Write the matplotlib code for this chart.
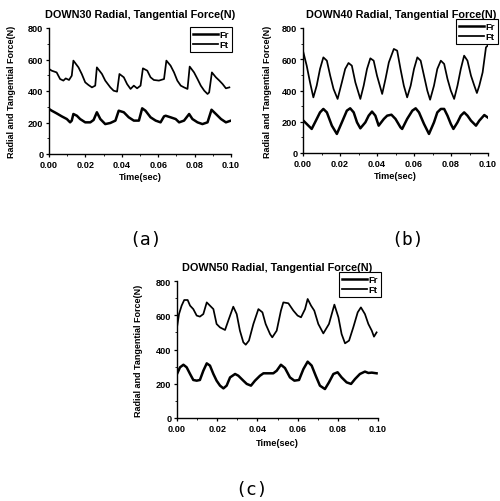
import matplotlib
matplotlib.use('Agg')
import matplotlib.pyplot as plt
from matplotlib.ticker import MultipleLocator, FormatStrFormatter
from matplotlib.lines import Line2D

plt.rcParams['font.family'] = ['Liberation Sans', 'DejaVu Sans']
plt.rcParams['font.weight'] = 'bold'

W, H = 500, 502

# ---- data ----
titles = ['DOWN30 Radial, Tangential Force(N)',
          'DOWN40 Radial, Tangential Force(N)',
          'DOWN50 Radial, Tangential Force(N)']
captions = ['(a)', '(b)', '(c)']
series_names = ['Fr', 'Ft']
x_ticks = [0.00, 0.02, 0.04, 0.06, 0.08, 0.10]
y_ticks = [0, 200, 400, 600, 800]

# DOWN30
t_a_ft = [0, 0.0015, 0.0042, 0.0061, 0.0079, 0.0092, 0.011, 0.0125, 0.0134, 0.0162,
          0.018, 0.0199, 0.0217, 0.0236, 0.0254, 0.0263, 0.0291, 0.0309, 0.0337, 0.0355,
          0.0374, 0.0387, 0.0411, 0.0429, 0.0448, 0.0466, 0.0484, 0.0503, 0.0516, 0.054,
          0.0558, 0.0576, 0.0604, 0.0632, 0.0645, 0.0668, 0.0687, 0.0705, 0.0724, 0.0742,
          0.0761, 0.0773, 0.0797, 0.0816, 0.0834, 0.0853, 0.0871, 0.088, 0.0895, 0.0917,
          0.0936, 0.0954, 0.0972, 0.0991]
a_ft = [540, 529, 518, 476, 466, 480, 470, 497, 593, 550,
        508, 455, 438, 423, 434, 550, 508, 466, 423, 402,
        396, 508, 487, 444, 413, 434, 417, 434, 544, 529,
        487, 470, 466, 476, 593, 561, 518, 466, 434, 423,
        413, 555, 518, 476, 434, 402, 381, 391, 518, 487,
        466, 444, 417, 423]
t_a_fr = [0, 0.0015, 0.0042, 0.007, 0.0098, 0.0116, 0.0125, 0.0134, 0.0153, 0.0171,
          0.0199, 0.0227, 0.0245, 0.0263, 0.0282, 0.0309, 0.0337, 0.0365, 0.0383, 0.0411,
          0.0438, 0.0466, 0.0494, 0.0512, 0.053, 0.0558, 0.0586, 0.0613, 0.0632, 0.0641,
          0.0668, 0.0696, 0.0715, 0.0742, 0.077, 0.0788, 0.0816, 0.0843, 0.0871, 0.0893,
          0.0917, 0.0945, 0.0972, 0.1]
a_fr = [286, 275, 258, 239, 222, 201, 212, 254, 243, 222,
        201, 201, 216, 265, 222, 190, 197, 212, 275, 265,
        233, 212, 212, 290, 275, 233, 212, 201, 239, 243,
        233, 222, 201, 212, 254, 222, 201, 190, 201, 281,
        254, 222, 201, 212]

# DOWN40
t_b_ft = [0.0002, 0.002, 0.0038, 0.0056, 0.0074, 0.0092, 0.011, 0.0129, 0.0147, 0.0165,
          0.0187, 0.021, 0.0228, 0.0246, 0.0264, 0.0283, 0.031, 0.0328, 0.0346, 0.0364,
          0.0382, 0.04, 0.0428, 0.0446, 0.0464, 0.0491, 0.0509, 0.0527, 0.0545, 0.0563,
          0.0582, 0.06, 0.0618, 0.0636, 0.0654, 0.0672, 0.0687, 0.0708, 0.0726, 0.0745,
          0.0763, 0.0781, 0.0799, 0.0817, 0.0835, 0.0853, 0.0871, 0.0889, 0.0908, 0.0926,
          0.094, 0.0953, 0.0971, 0.0989, 0.0998]
b_ft = [644, 559, 452, 356, 431, 538, 612, 591, 495, 410,
        346, 452, 538, 576, 559, 452, 346, 431, 538, 606,
        591, 495, 378, 474, 580, 666, 655, 538, 431, 356,
        431, 538, 612, 591, 495, 399, 341, 431, 538, 591,
        570, 474, 399, 346, 431, 538, 623, 591, 495, 431,
        384, 431, 516, 676, 687]
t_b_fr = [0.0002, 0.002, 0.0047, 0.0065, 0.0092, 0.011, 0.0129, 0.0156, 0.0183, 0.021,
          0.0237, 0.0255, 0.0274, 0.0292, 0.031, 0.0337, 0.0355, 0.0373, 0.0391, 0.0409,
          0.0437, 0.0455, 0.0478, 0.05, 0.0527, 0.0536, 0.0563, 0.0591, 0.0609, 0.0627,
          0.0654, 0.0681, 0.0708, 0.0726, 0.0745, 0.0763, 0.0781, 0.0799, 0.0813, 0.0835,
          0.0853, 0.0871, 0.0889, 0.0908, 0.0935, 0.0953, 0.098, 0.0998]
b_fr = [207, 186, 154, 196, 260, 282, 260, 175, 122, 196,
        271, 286, 260, 196, 158, 196, 239, 265, 239, 175,
        218, 239, 245, 218, 164, 154, 218, 271, 286, 260,
        186, 122, 196, 260, 282, 282, 239, 186, 154, 196,
        239, 260, 239, 207, 175, 207, 243, 228]

# DOWN50
t_c_ft = [0, 0.001, 0.0023, 0.0036, 0.0053, 0.0065, 0.0081, 0.0098, 0.0114, 0.0131,
          0.0148, 0.0164, 0.0181, 0.0197, 0.0214, 0.0239, 0.0255, 0.028, 0.0297, 0.0313,
          0.033, 0.0342, 0.0358, 0.038, 0.0405, 0.0425, 0.0441, 0.0463, 0.0474, 0.0496,
          0.0517, 0.0529, 0.0554, 0.0579, 0.06, 0.0617, 0.0637, 0.065, 0.0667, 0.0683,
          0.0703, 0.0728, 0.0756, 0.0783, 0.0803, 0.0819, 0.0836, 0.0856, 0.0877, 0.0899,
          0.0915, 0.0935, 0.0952, 0.0969, 0.098, 0.0993]
c_ft = [529, 607, 656, 689, 689, 656, 636, 598, 592, 607,
        675, 656, 636, 549, 529, 514, 568, 650, 607, 510,
        442, 428, 452, 549, 636, 617, 549, 490, 471, 510,
        627, 675, 670, 627, 598, 588, 636, 695, 656, 627,
        549, 494, 549, 662, 588, 490, 436, 452, 529, 617,
        646, 607, 549, 510, 475, 500]
t_c_fr = [0, 0.0015, 0.0032, 0.0048, 0.0065, 0.0081, 0.0098, 0.0114, 0.0131, 0.0148,
          0.0164, 0.0181, 0.0197, 0.0214, 0.0231, 0.0247, 0.0264, 0.0289, 0.0305, 0.033,
          0.0347, 0.0368, 0.0388, 0.0413, 0.043, 0.0454, 0.0479, 0.0496, 0.0517, 0.0537,
          0.0562, 0.0584, 0.0607, 0.0629, 0.065, 0.067, 0.069, 0.0711, 0.0736, 0.0756,
          0.0778, 0.0799, 0.0819, 0.0844, 0.0866, 0.0886, 0.091, 0.0935, 0.0952, 0.0969,
          0.0993]
c_fr = [257, 296, 311, 296, 257, 222, 218, 222, 276, 319,
        306, 257, 218, 189, 173, 189, 237, 257, 247, 218,
        199, 189, 218, 247, 261, 261, 261, 276, 311, 292,
        237, 218, 222, 286, 329, 306, 247, 189, 169, 208,
        257, 267, 237, 208, 199, 228, 257, 271, 263, 265,
        261]

# ---- layout in pixels (left, right, top, bottom) ----
boxes = [(49, 231, 29, 155), (303, 488, 29, 154), (177, 378, 282, 419)]
legend_px = [(232, 28), (498, 20), (381, 273)]   # upper-right corner of legend
caption_px = [(146, 240), (408, 240), (252, 490)]
ylab_x = [16, 272, 143]
xlab_y = [178, 177, 443]
title_y = [15, 15, 268]

fig = plt.figure(figsize=(W / 100, H / 100), dpi=100)
fig.patch.set_facecolor('white')

data = [(t_a_fr, a_fr, t_a_ft, a_ft), (t_b_fr, b_fr, t_b_ft, b_ft), (t_c_fr, c_fr, t_c_ft, c_ft)]
lw_fr, lw_ft = 1.8, 1.25

for i, (l, r, t, b) in enumerate(boxes):
    ax = fig.add_axes([l / W, 1 - b / H, (r - l) / W, (b - t) / H])
    tr, fr, tt, ft = data[i]
    ax.plot(tr, fr, color='black', lw=lw_fr)
    ax.plot(tt, ft, color='black', lw=lw_ft)
    ax.set_xlim(0, 0.10)
    ax.set_ylim(0, 800)
    ax.set_xticks(x_ticks)
    ax.set_yticks(y_ticks)
    ax.xaxis.set_minor_locator(MultipleLocator(0.01))
    ax.yaxis.set_minor_locator(MultipleLocator(100))
    ax.xaxis.set_major_formatter(FormatStrFormatter('%.2f'))
    ax.tick_params(which='major', length=2.5, width=0.9, labelsize=6.6, pad=1.5)
    ax.tick_params(which='minor', length=1.5, width=0.6)
    for s in ['top', 'right']:
        ax.spines[s].set_visible(False)
    for s in ['left', 'bottom']:
        ax.spines[s].set_linewidth(1.0)
    for lab in ax.get_xticklabels() + ax.get_yticklabels():
        lab.set_fontweight('bold')

    ax.set_ylabel('Radial and Tangential Force(N)', fontsize=6.5, fontweight='bold')
    ax.yaxis.set_label_coords((ylab_x[i] - l) / (r - l), 0.5)
    ax.set_xlabel('Time(sec)', fontsize=6.6, fontweight='bold')
    ax.xaxis.set_label_coords(0.5, -(xlab_y[i] - b) / (b - t))
    ax.xaxis.label.set_va('center')

    ax.text(0.5 + (6 if i == 1 else 0) / (r - l), 1 + (t - title_y[i]) / (b - t), titles[i],
            transform=ax.transAxes, ha='center', va='center', fontsize=7.8, fontweight='bold')

    handles = [Line2D([], [], color='black', lw=lw_fr), Line2D([], [], color='black', lw=lw_ft)]
    lx, ly = legend_px[i]
    leg = ax.legend(handles, series_names, loc='upper right',
                    bbox_to_anchor=(lx / W, 1 - ly / H), bbox_transform=fig.transFigure,
                    borderaxespad=0, fontsize=6.8, frameon=True, fancybox=False,
                    framealpha=1, edgecolor='black', handlelength=2.6, handletextpad=0.2,
                    borderpad=0.3, labelspacing=0.15)
    leg.get_frame().set_linewidth(0.8)

    cx, cy = caption_px[i]
    fig.text(cx / W, 1 - cy / H, captions[i], ha='center', va='center',
             fontsize=13, family='DejaVu Sans Mono', fontweight='normal')

fig.savefig('out.png', dpi=100, facecolor='white')
